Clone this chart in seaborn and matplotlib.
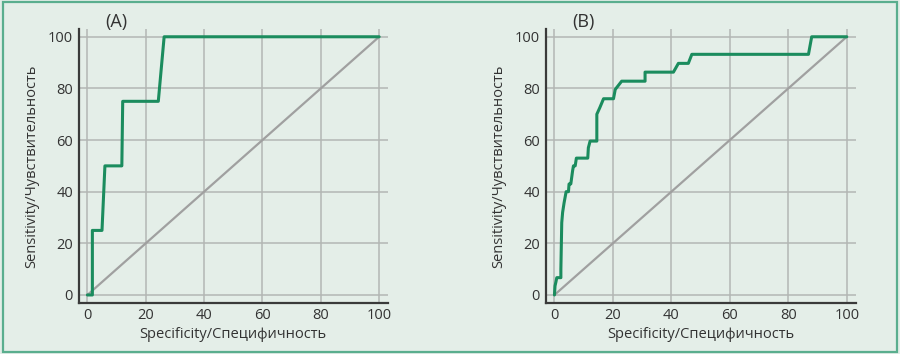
import numpy as np
import pandas as pd
import matplotlib
matplotlib.use("Agg")
import matplotlib.pyplot as plt
import seaborn as sns
from matplotlib.patches import Rectangle
from matplotlib.ticker import MultipleLocator

# ---- data ----
spec_a = [0, 1.7, 1.7, 5.0, 6.0, 11.8, 12.1, 24.3, 26.3, 100]
sens_a = [0, 0, 25, 25, 50, 50, 75, 75, 100, 100]

spec_b = [0, 0.2, 0.5, 0.8, 2.2, 2.2, 2.5, 2.8, 3.3, 4.0, 4.8, 5.0, 5.6, 6.2, 6.5, 7.1, 7.5,
          11.4, 11.6, 12.2, 14.5, 14.5, 15.5, 16.8, 20.2, 20.8, 23.0, 31.0, 31.0, 40.7, 42.4,
          45.8, 47.0, 86.9, 88.0, 100]
sens_b = [0, 3.5, 5.0, 6.7, 6.7, 10, 28, 32, 35.7, 40, 40, 43, 43, 48, 50, 50, 53,
          53, 57, 59.6, 59.6, 70, 72.5, 76, 76, 79.6, 82.8, 82.8, 86.3, 86.3, 89.7,
          89.7, 93.2, 93.2, 100, 100]

ref_x = [0, 100]
ref_y = [0, 100]

panel_labels = ["(A)", "(B)"]
x_label = "Specificity/Специфичность"
y_label = "Sensitivity/Чувствительность"
ticks = [0, 20, 40, 60, 80, 100]

BG = "#e4eee8"
GREEN = "#1b8c5e"
GREY_DIAG = "#a0a0a0"
GRID = "#b3b7b4"
SPINE = "#3a3a3a"
BORDER = "#5aae8e"

sns.set_style("white")
plt.rcParams["font.family"] = ["Open Sans", "DejaVu Sans"]
plt.rcParams["text.color"] = "#333333"
plt.rcParams["axes.labelcolor"] = "#333333"
plt.rcParams["xtick.color"] = "#333333"
plt.rcParams["ytick.color"] = "#333333"

fig = plt.figure(figsize=(9, 3.54), dpi=100, facecolor=BG)
fig.patches.append(Rectangle((0.003, 0.006), 0.994, 0.988, transform=fig.transFigure,
                             fill=False, edgecolor=BORDER, linewidth=1.6))

positions = [(0.0874, 0.1449, 0.3436, 0.7731), (0.6063, 0.1449, 0.3443, 0.7731)]
curves = [(spec_a, sens_a), (spec_b, sens_b)]

for pos, (sx, sy), lab in zip(positions, curves, panel_labels):
    ax = fig.add_axes(pos)
    ax.set_facecolor(BG)
    df = pd.DataFrame({"spec": sx, "sens": sy})
    ref = pd.DataFrame({"spec": ref_x, "sens": ref_y})
    ax.grid(True, color=GRID, linewidth=1.1, which="major")
    ax.set_axisbelow(True)
    sns.lineplot(data=ref, x="spec", y="sens", ax=ax, color=GREY_DIAG, linewidth=1.6,
                 sort=False, estimator=None)
    sns.lineplot(data=df, x="spec", y="sens", ax=ax, color=GREEN, linewidth=2.2,
                 sort=False, estimator=None)
    ax.set_xlim(-3, 103)
    ax.set_ylim(-3, 103)
    ax.set_xticks(ticks)
    ax.set_yticks(ticks)
    ax.xaxis.set_minor_locator(MultipleLocator(5))
    ax.yaxis.set_minor_locator(MultipleLocator(5))
    ax.tick_params(which="both", direction="in", length=4.5, width=1.1, color=SPINE,
                   labelsize=10.5)
    ax.tick_params(axis="y", pad=4)
    ax.tick_params(axis="x", pad=4)
    for s in ["top", "right"]:
        ax.spines[s].set_visible(False)
    for s in ["left", "bottom"]:
        ax.spines[s].set_color(SPINE)
        ax.spines[s].set_linewidth(1.6)
    ax.set_xlabel(x_label, fontsize=10.5, labelpad=3)
    ax.set_ylabel(y_label, fontsize=10.5, labelpad=6)
    ax.text(10, 105.8, lab, ha="center", va="center", fontsize=13, clip_on=False)

fig.savefig("out.png", dpi=100, facecolor=BG)
